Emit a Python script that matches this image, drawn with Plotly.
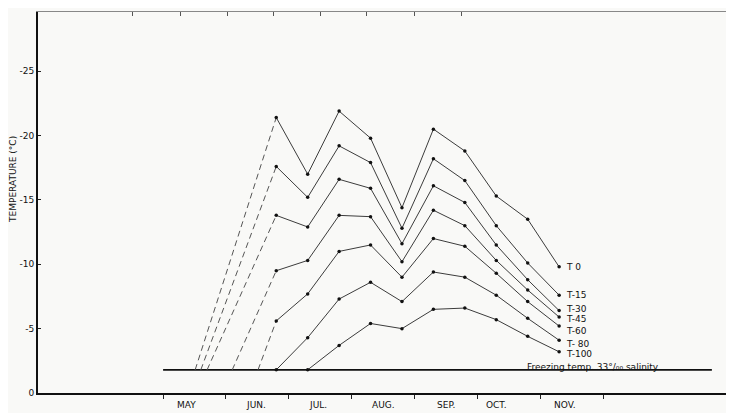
import plotly.graph_objects as go

# ---- data (x in months counted from 1 May) ----
sample_x = [1.8, 2.3, 2.8, 3.3, 3.8, 4.3, 4.8, 5.3, 5.8, 6.3]

series_names = ["T 0", "T-15", "T-30", "T-45", "T-60", "T- 80", "T-100"]
t_0 = [-21.4, -17.0, -21.9, -19.8, -14.4, -20.5, -18.8, -15.3, -13.5, -9.8]
t_15 = [-17.6, -15.2, -19.2, -17.9, -12.8, -18.2, -16.5, -13.0, -10.1, -7.6]
t_30 = [-13.8, -12.9, -16.6, -15.9, -11.6, -16.1, -14.8, -11.5, -8.8, -6.4]
t_45 = [-9.5, -10.3, -13.8, -13.7, -10.2, -14.2, -13.0, -10.3, -8.0, -5.9]
t_60 = [-5.6, -7.7, -11.0, -11.5, -9.0, -12.0, -11.4, -9.3, -7.1, -5.2]
t_80 = [-1.8, -4.3, -7.3, -8.6, -7.1, -9.4, -9.0, -7.6, -5.8, -4.1]
t_100 = [None, -1.8, -3.7, -5.4, -5.0, -6.5, -6.6, -5.7, -4.4, -3.2]
series_values = [t_0, t_15, t_30, t_45, t_60, t_80, t_100]

# month at which each series leaves the freezing line (dashed extrapolation)
onset_x = [0.51, 0.60, 0.70, 1.10, 1.51, None, None]

freezing_temp = -1.8
freezing_span = [0.0, 8.73]
freezing_label = "Freezing temp. 33°/₀₀ salinity"

month_names = ["MAY", "JUN.", "JUL.", "AUG.", "SEP.", "OCT.", "NOV."]
month_label_pos = [0.38, 1.48, 2.46, 3.50, 4.50, 5.31, 6.39]
month_bounds = [0, 1, 2, 3, 4, 5, 6, 7]
top_ticks = [-0.48, 0.27, 1.02, 1.75, 2.50, 3.24, 4.0, 4.74]

y_ticks = [0, -5, -10, -15, -20, -25]
y_ticktext = ["0", "-5", "-10", "-15", "-20", "-25"]
right_ticks = [-5, -10]

label_yshift = [0, 0, 2, -2, -5, -4, -2]

LINE = "#3c3c3c"
FONT = "DejaVu Sans"

fig = go.Figure()

# freezing line
fig.add_trace(go.Scatter(x=freezing_span, y=[freezing_temp, freezing_temp],
                         mode="lines", line=dict(color="#111", width=1.6),
                         hoverinfo="skip", showlegend=False))

for name, vals, ox in zip(series_names, series_values, onset_x):
    first = next(i for i, v in enumerate(vals) if v is not None)
    if ox is not None:
        fig.add_trace(go.Scatter(x=[ox, sample_x[first]], y=[freezing_temp, vals[first]],
                                 mode="lines",
                                 line=dict(color="#555", width=1, dash="6px,4px"),
                                 hoverinfo="skip", showlegend=False))
    xs = [x for x, v in zip(sample_x, vals) if v is not None]
    ys = [v for v in vals if v is not None]
    fig.add_trace(go.Scatter(x=xs, y=ys, mode="lines+markers", name=name,
                             line=dict(color=LINE, width=1),
                             marker=dict(color="#111", size=3.5),
                             showlegend=False))

# series labels at the end of each line
for name, vals, ys in zip(series_names, series_values, label_yshift):
    fig.add_annotation(x=sample_x[-1], y=vals[-1], text=name, showarrow=False,
                       xanchor="left", yanchor="middle", xshift=5, yshift=ys,
                       font=dict(family=FONT, size=9, color="#111"))

fig.add_annotation(x=5.76, y=freezing_temp, text=freezing_label, showarrow=False,
                   xanchor="left", yanchor="bottom", yshift=-4,
                   font=dict(family=FONT, size=9, color="#111"))

# month names centred under their month spans
for name, pos in zip(month_names, month_label_pos):
    fig.add_annotation(x=pos, y=0, yref="paper", text=name, showarrow=False,
                       xanchor="center", yanchor="middle", yshift=-12,
                       font=dict(family=FONT, size=9, color="#111"))

fig.add_annotation(xref="paper", yref="paper", x=-0.037, y=0.56,
                   text="TEMPERATURE (°C)", textangle=-90, showarrow=False,
                   xanchor="center", yanchor="middle",
                   font=dict(family=FONT, size=9, color="#111"))

# invisible trace to activate top/right axes
fig.add_trace(go.Scatter(x=[0], y=[0], xaxis="x2", yaxis="y2", mode="markers",
                         marker=dict(opacity=0), hoverinfo="skip", showlegend=False))

x_range = [-1.99, 9.05]
y_range = [0, -29.6]

fig.update_layout(
    width=726, height=405,
    margin=dict(l=30, r=2, t=4, b=20),
    paper_bgcolor="#f9f9f7", plot_bgcolor="#f9f9f7",
    font=dict(family=FONT, size=9, color="#111"),
    xaxis=dict(range=x_range, showgrid=False, zeroline=False,
               showline=True, linecolor="#111", linewidth=2,
               tickmode="array", tickvals=month_label_pos, ticks="",
               showticklabels=False,
               minor=dict(tickmode="array", tickvals=month_bounds, ticks="outside",
                          ticklen=4, tickcolor="#222", tickwidth=1, showgrid=False)),
    yaxis=dict(range=y_range, showgrid=False, zeroline=False,
               showline=True, linecolor="#111", linewidth=2,
               tickmode="array", tickvals=y_ticks, ticktext=y_ticktext,
               ticks="inside", ticklen=3, tickcolor="#222",
               tickfont=dict(family=FONT, size=9, color="#111")),
    xaxis2=dict(range=x_range, overlaying="x", side="top", anchor="y",
                showgrid=False, zeroline=False, showline=True,
                linecolor="#888", linewidth=1,
                tickmode="array", tickvals=top_ticks, ticks="inside",
                ticklen=4, tickcolor="#555", showticklabels=False),
    yaxis2=dict(range=y_range, overlaying="y", side="right", anchor="x",
                showgrid=False, zeroline=False, showline=True,
                linecolor="#aaa", linewidth=1,
                tickmode="array", tickvals=right_ticks, ticks="inside",
                ticklen=4, tickcolor="#555", showticklabels=False),
)

fig.write_html("out.html")
